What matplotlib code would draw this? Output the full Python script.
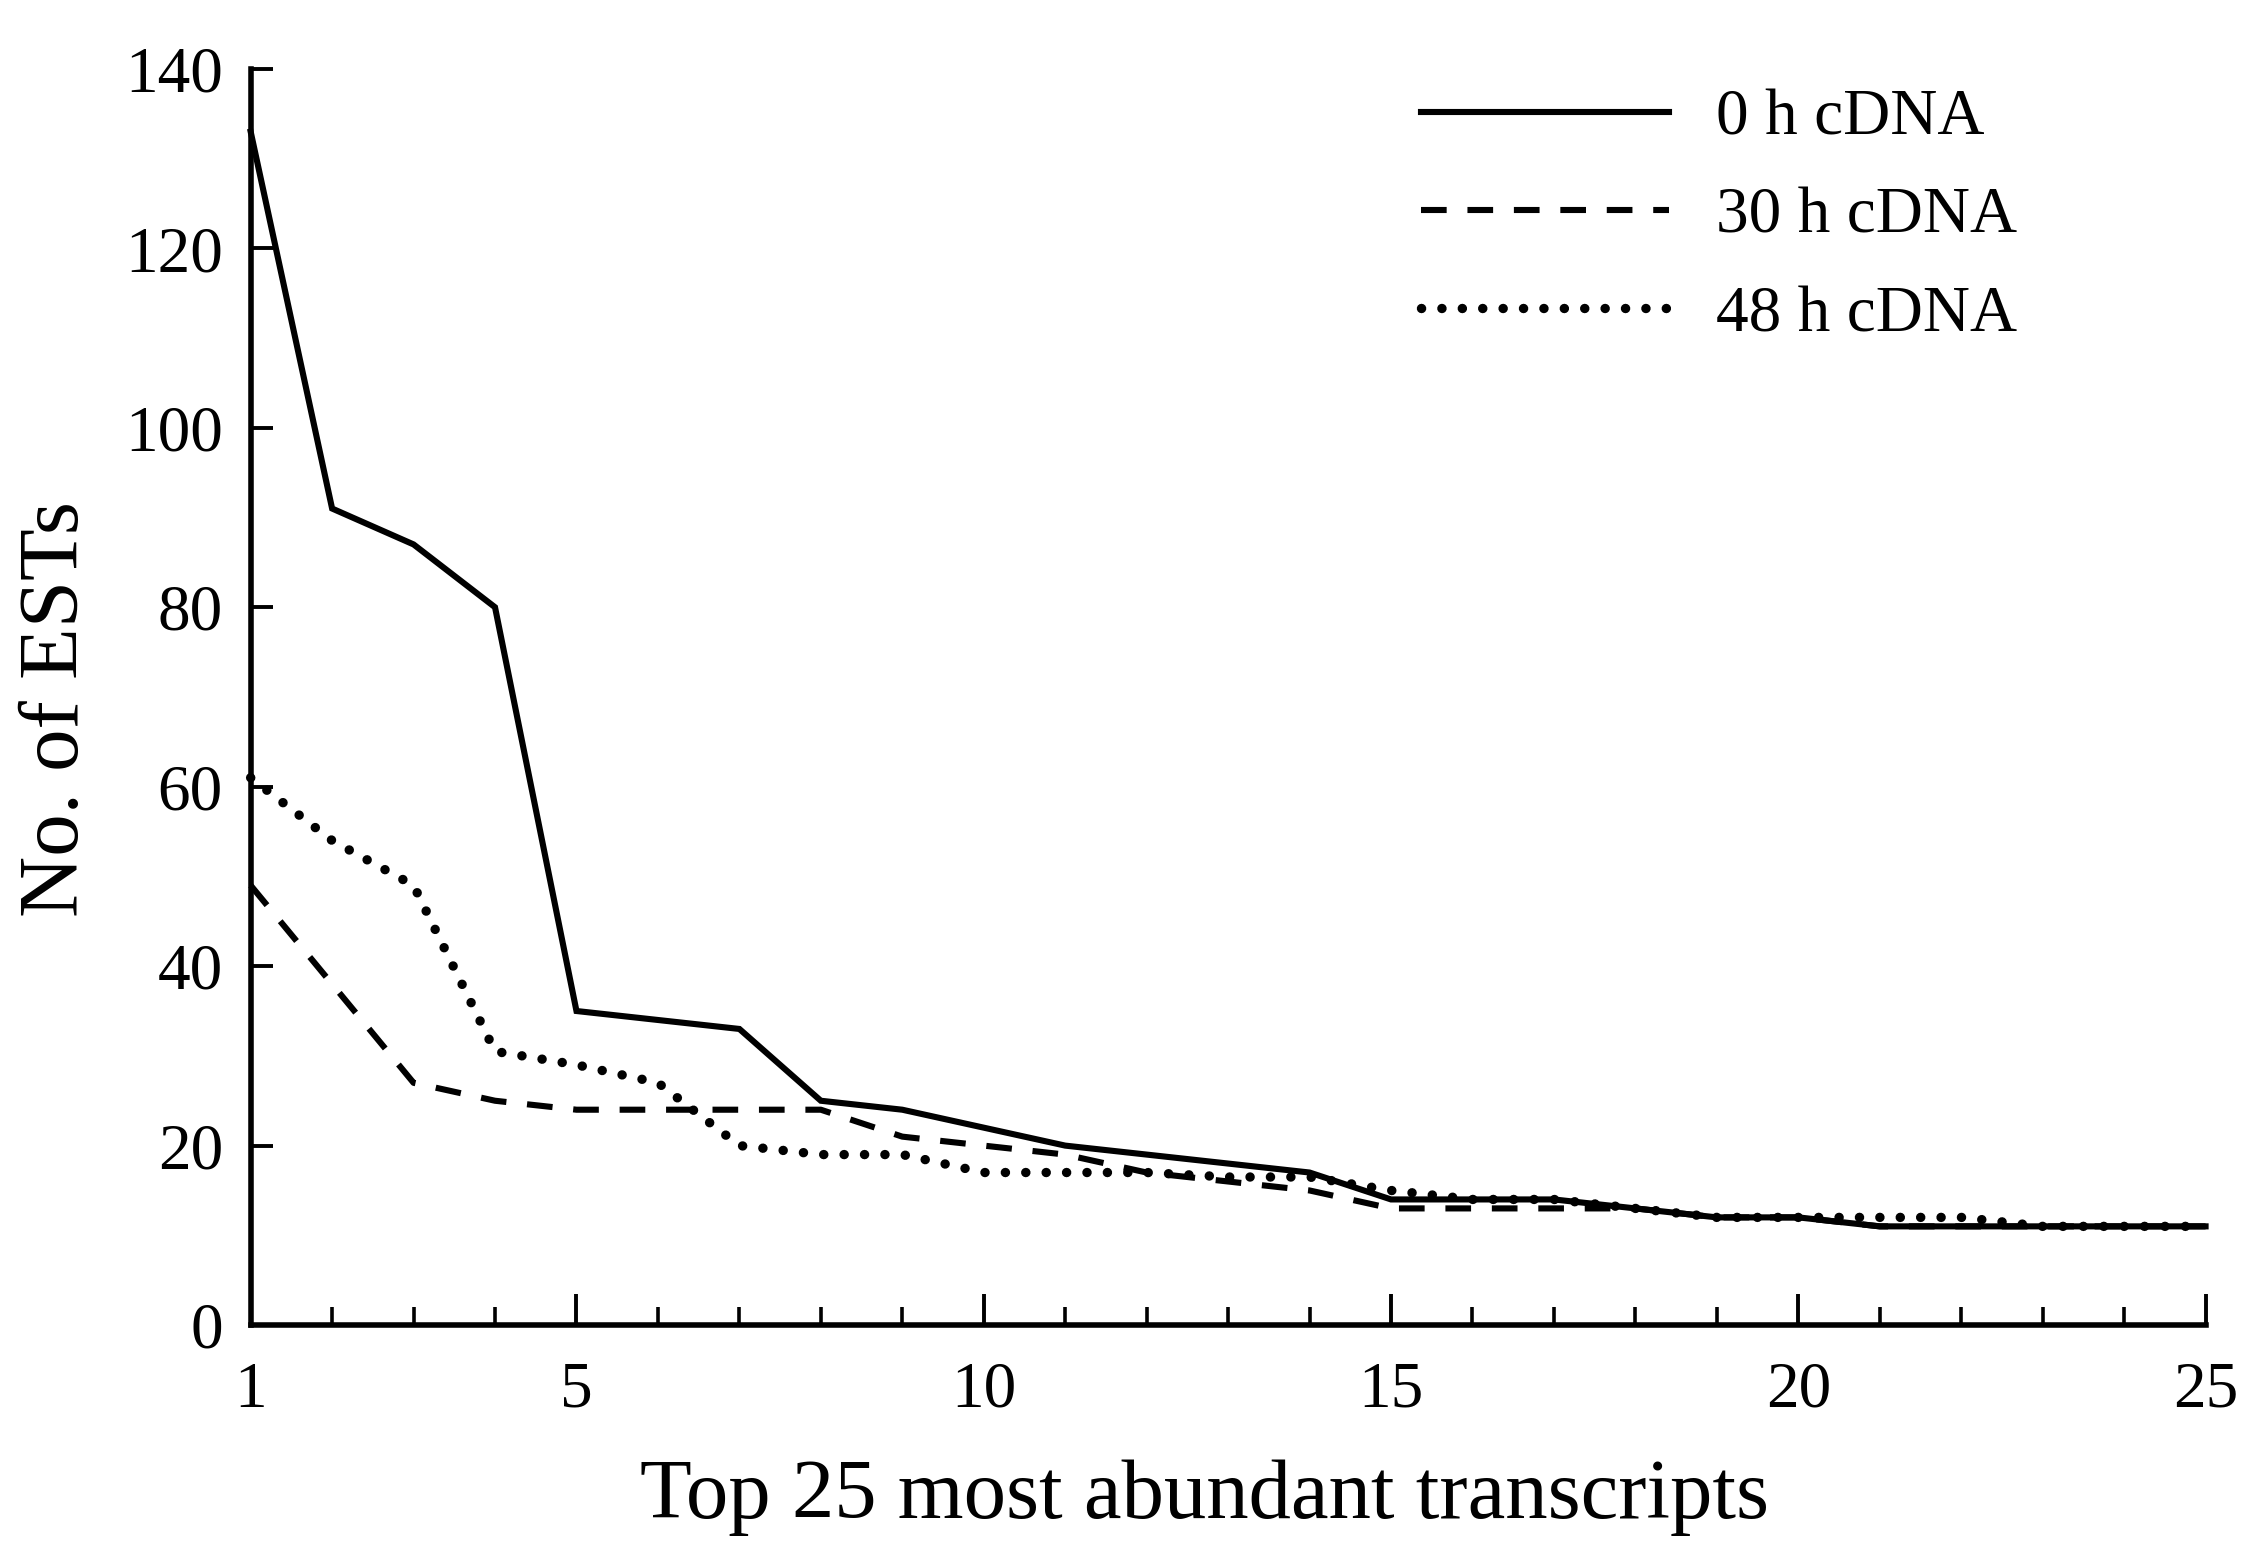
import matplotlib
matplotlib.use("Agg")
import matplotlib.pyplot as plt
import numpy as np

plt.rcParams['font.family'] = ['Liberation Serif', 'DejaVu Serif']

ranks = list(range(1, 26))
est_0h = [133, 91, 87, 80, 35, 34, 33, 25, 24, 22, 20, 19, 18, 17, 14, 14, 14, 13, 12, 12, 11, 11, 11, 11, 11]
est_30h = [49, 38, 27, 25, 24, 24, 24, 24, 21, 20, 19, 17, 16, 15, 13, 13, 13, 13, 12, 12, 11, 11, 11, 11, 11]
est_48h = [61, 54, 49, 30.5, 29, 27, 20, 19, 19, 17, 17, 17, 16.5, 16.5, 15, 14, 14, 13, 12, 12, 12, 12, 11, 11, 11]
labels = ["0 h cDNA", "30 h cDNA", "48 h cDNA"]
x_major = [1, 5, 10, 15, 20, 25]
y_major = [0, 20, 40, 60, 80, 100, 120, 140]

fig = plt.figure(figsize=(22.46, 15.44), dpi=100)
ax = fig.add_axes([0.1116, 0.1418, 0.982 - 0.1116, 0.9554 - 0.1418])

ax.plot(ranks, est_0h, color='black', lw=4.4, solid_joinstyle='miter', clip_on=False, label=labels[0])
ax.plot(ranks, est_30h, color='black', lw=4.4, dashes=(4.2, 3.4), dash_capstyle='butt', clip_on=False, label=labels[1])
ax.plot(ranks, est_48h, color='black', lw=6.8, dashes=(0.01, 2.15), dash_capstyle='round', clip_on=False, label=labels[2])

ax.set_xlim(1, 25)
ax.set_ylim(0, 140)
ax.set_xticks(x_major)
ax.set_xticks(ranks, minor=True)
ax.set_yticks(y_major)

for s in ['top', 'right']:
    ax.spines[s].set_visible(False)
for s in ['left', 'bottom']:
    ax.spines[s].set_linewidth(4.0)

ax.tick_params(axis='x', which='major', direction='in', length=22, width=2.8, labelsize=47, pad=26)
ax.tick_params(axis='x', which='minor', direction='in', length=13, width=2.6)
ax.tick_params(axis='y', which='major', direction='in', length=16, width=2.8, labelsize=47, pad=20)

ax.set_xlabel("Top 25 most abundant transcripts", fontsize=61)
ax.set_ylabel("No. of ESTs", fontsize=61)
ax.xaxis.label.set_va('center')
ax.yaxis.label.set_va('center')
ax.xaxis.set_label_coords(0.488, -0.137)
ax.yaxis.set_label_coords(-0.099, 0.49)

leg = ax.legend(loc='upper left', bbox_to_anchor=(0.5985, 0.984), frameon=False,
                fontsize=47, handlelength=3.8, handletextpad=0.72, labelspacing=0.59,
                borderpad=0, borderaxespad=0)

fig.savefig("out.png", dpi=100)
